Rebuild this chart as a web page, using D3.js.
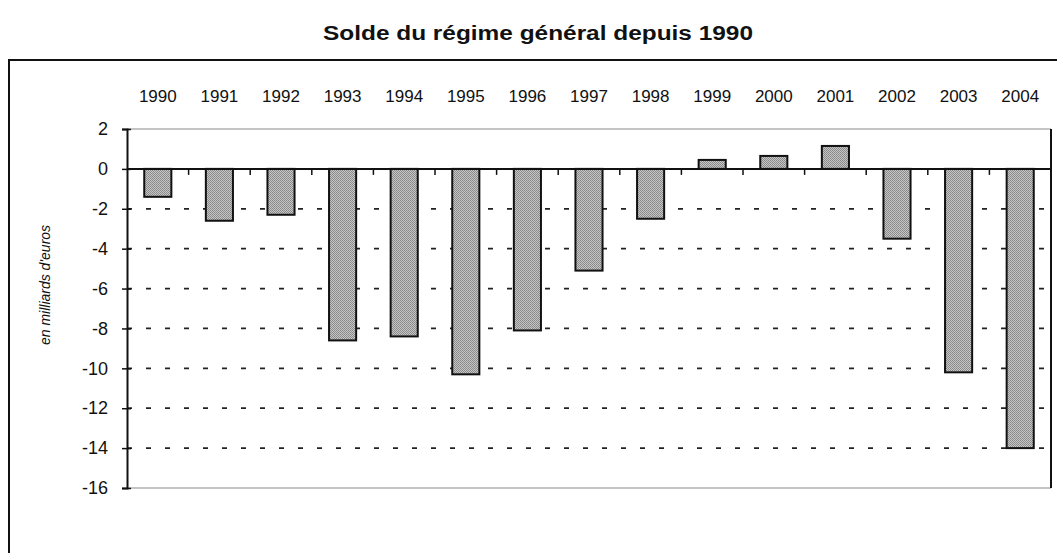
<!DOCTYPE html>
<html>
<head>
<meta charset="utf-8">
<script src="https://cdn.jsdelivr.net/npm/d3@7"></script>
<style>
    body { margin: 0; background: #fff; }
    text { font-family: "Liberation Sans", Arial, sans-serif; fill: #111; }
</style>
</head>
<body>
<div id="chart"></div>
<script>
const years = ["1990", "1991", "1992", "1993", "1994", "1995", "1996", "1997", "1998", "1999", "2000", "2001", "2002", "2003", "2004"];
const soldes = [-1.4, -2.6, -2.3, -8.6, -8.4, -10.3, -8.1, -5.1, -2.5, 0.45, 0.65, 1.15, -3.5, -10.2, -14.0];
const yTicks = [2, 0, -2, -4, -6, -8, -10, -12, -14, -16];
const gridTicks = [-2, -4, -6, -8, -10, -12, -14];

const width = 1057, height = 553;
const svg = d3.select("#chart").append("svg").attr("width", width).attr("height", height);

// motif gris tramé des barres
const pat = svg.append("defs").append("pattern")
    .attr("id", "trame").attr("width", 2).attr("height", 2)
    .attr("patternUnits", "userSpaceOnUse");
pat.append("rect").attr("width", 2).attr("height", 2).attr("fill", "#c6c6c6");
pat.append("rect").attr("width", 1).attr("height", 1).attr("fill", "#878787");
pat.append("rect").attr("x", 1).attr("y", 1).attr("width", 1).attr("height", 1).attr("fill", "#8e8e8e");

// titre
svg.append("text")
    .attr("x", 538).attr("y", 40)
    .attr("text-anchor", "middle")
    .attr("font-size", 20).attr("font-weight", "bold")
    .attr("textLength", 430).attr("lengthAdjust", "spacingAndGlyphs")
    .text("Solde du régime général depuis 1990");

// cadre extérieur
svg.append("rect")
    .attr("x", 9).attr("y", 60).attr("width", 1100).attr("height", 600)
    .attr("fill", "none").attr("stroke", "#111").attr("stroke-width", 2);

const plotLeft = 127, plotRight = 1051, plotTop = 129, plotBottom = 488;
const x = d3.scaleBand().domain(years).range([plotLeft, plotRight]).padding(0);
const y = d3.scaleLinear().domain([-16, 2]).range([plotBottom, plotTop]);

// bordures haut / bas de la zone de tracé
svg.append("line").attr("x1", plotLeft).attr("x2", plotRight).attr("y1", y(2)).attr("y2", y(2))
    .attr("stroke", "#8a8a8a").attr("stroke-width", 1.2);
svg.append("line").attr("x1", plotLeft).attr("x2", plotRight).attr("y1", y(-16)).attr("y2", y(-16))
    .attr("stroke", "#8a8a8a").attr("stroke-width", 1.2);
svg.append("line").attr("x1", plotRight).attr("x2", plotRight).attr("y1", y(2)).attr("y2", y(-16))
    .attr("stroke", "#111").attr("stroke-width", 2);

// quadrillage pointillé
svg.append("g").selectAll("line")
    .data(gridTicks)
    .join("line")
    .attr("x1", plotLeft).attr("x2", plotRight)
    .attr("y1", d => y(d)).attr("y2", d => y(d))
    .attr("stroke", "#222").attr("stroke-width", 1.8)
    .attr("stroke-dasharray", "5,14");

// barres
const bw = x.bandwidth() * 0.44;
svg.append("g").selectAll("rect")
    .data(soldes)
    .join("rect")
    .attr("x", (d, i) => x(years[i]) + (x.bandwidth() - bw) / 2)
    .attr("y", d => y(Math.max(0, d)))
    .attr("width", bw)
    .attr("height", d => Math.abs(y(d) - y(0)))
    .attr("fill", "url(#trame)")
    .attr("stroke", "#111").attr("stroke-width", 2);

// axe des abscisses sur le zéro
svg.append("line").attr("x1", plotLeft).attr("x2", plotRight).attr("y1", y(0)).attr("y2", y(0))
    .attr("stroke", "#111").attr("stroke-width", 2);
svg.append("g").selectAll("line")
    .data(years.slice(1))
    .join("line")
    .attr("x1", d => x(d)).attr("x2", d => x(d))
    .attr("y1", y(0)).attr("y2", y(0) + 6)
    .attr("stroke", "#111").attr("stroke-width", 1.5);

// années en haut
svg.append("g").selectAll("text")
    .data(years)
    .join("text")
    .attr("x", d => x(d) + x.bandwidth() / 2)
    .attr("y", 102)
    .attr("text-anchor", "middle")
    .attr("font-size", 17)
    .text(d => d);

// axe des ordonnées
const yAxis = svg.append("g")
    .attr("transform", `translate(${plotLeft},0)`)
    .call(d3.axisLeft(y).tickValues(yTicks).tickSize(5).tickPadding(14).tickFormat(d3.format("d")));
yAxis.select(".domain").attr("stroke", "#111").attr("stroke-width", 2);
yAxis.selectAll(".tick line").attr("stroke", "#111").attr("stroke-width", 1.5);
yAxis.selectAll(".tick").append("line").attr("x1", 0).attr("x2", 4)
    .attr("stroke", "#111").attr("stroke-width", 1.5);
yAxis.selectAll(".tick text")
    .attr("font-size", 18)
    .attr("font-family", "Liberation Sans, Arial, sans-serif")
    .attr("fill", "#111")
    .text(d => d < 0 ? "-" + Math.abs(d) : d);

// titre de l'axe
svg.append("text")
    .attr("transform", "translate(50,285) rotate(-90)")
    .attr("text-anchor", "middle")
    .attr("font-size", 14).attr("font-style", "italic")
    .text("en milliards d'euros");
</script>
</body>
</html>
